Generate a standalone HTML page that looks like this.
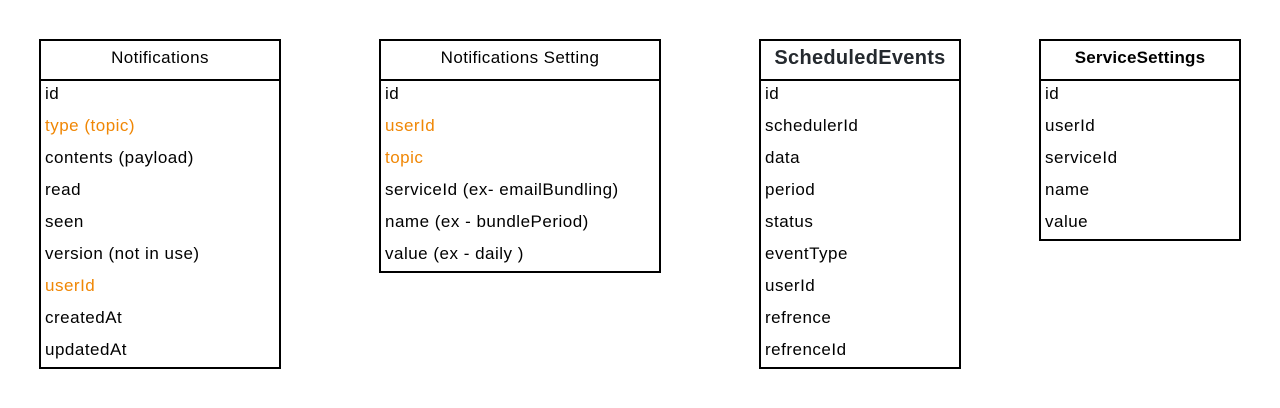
<!DOCTYPE html>
<html><head><style>
body{margin:0;width:1280px;height:408px;background:#fff;position:relative;font-family:"Liberation Sans",sans-serif;overflow:hidden}
.t{position:absolute;border:2px solid #000;box-sizing:border-box;background:#fff}
.h{height:40px;border-bottom:2px solid #000;display:flex;align-items:center;justify-content:center;font-size:17px;letter-spacing:0.4px;color:#000;padding-bottom:4px;box-sizing:border-box}
.r{height:32px;line-height:26px;padding-left:4px;font-size:17px;letter-spacing:0.5px;color:#000;white-space:nowrap}
.o{color:#f08705}
</style></head><body>
<div class="t" style="left:39px;top:39px;width:242px;height:330px">
<div class="h">Notifications</div>
<div class="r">id</div><div class="r o">type (topic)</div><div class="r">contents (payload)</div><div class="r">read</div><div class="r">seen</div><div class="r">version (not in use)</div><div class="r o">userId</div><div class="r">createdAt</div><div class="r">updatedAt</div>
</div>
<div class="t" style="left:379px;top:39px;width:282px;height:234px">
<div class="h">Notifications Setting</div>
<div class="r">id</div><div class="r o">userId</div><div class="r o">topic</div><div class="r">serviceId (ex- emailBundling)</div><div class="r">name (ex - bundlePeriod)</div><div class="r">value (ex - daily )</div>
</div>
<div class="t" style="left:759px;top:39px;width:202px;height:330px">
<div class="h" style="font-size:20px;font-weight:bold;color:#24292e;letter-spacing:0.3px">ScheduledEvents</div>
<div class="r">id</div><div class="r">schedulerId</div><div class="r">data</div><div class="r">period</div><div class="r">status</div><div class="r">eventType</div><div class="r">userId</div><div class="r">refrence</div><div class="r">refrenceId</div>
</div>
<div class="t" style="left:1039px;top:39px;width:202px;height:202px">
<div class="h" style="font-weight:bold;letter-spacing:0.2px">ServiceSettings</div>
<div class="r">id</div><div class="r">userId</div><div class="r">serviceId</div><div class="r">name</div><div class="r">value</div>
</div>
</body></html>
